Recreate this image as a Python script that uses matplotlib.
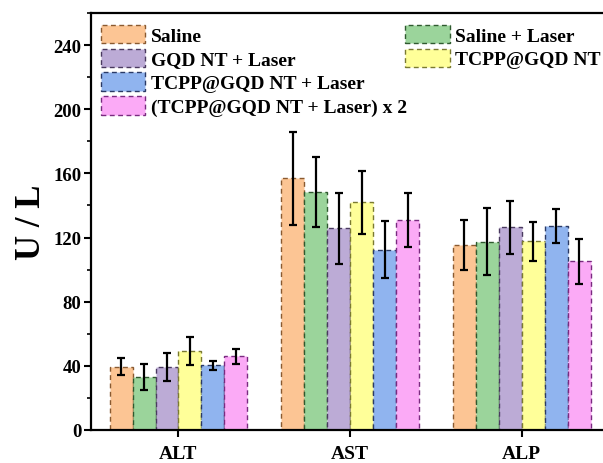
import numpy as np
import matplotlib
matplotlib.use("Agg")
import matplotlib.pyplot as plt
from matplotlib.patches import Patch
from matplotlib.ticker import MultipleLocator

plt.rcParams['font.family'] = ['Liberation Serif', 'DejaVu Serif']
plt.rcParams['font.weight'] = 'bold'

categories = ["ALT", "AST", "ALP"]
groups = ["Saline", "Saline + Laser", "GQD NT + Laser", "TCPP@GQD NT",
          "TCPP@GQD NT + Laser", "(TCPP@GQD NT + Laser) x 2"]

saline = [39.5, 157.0, 115.3]
saline_laser = [33.2, 148.5, 117.4]
gqd_laser = [39.1, 125.7, 126.4]
tcpp_gqd = [49.1, 142.0, 117.6]
tcpp_gqd_laser = [40.5, 112.4, 127.0]
tcpp_gqd_laser_x2 = [45.9, 130.9, 105.2]

saline_err = [5.5, 29.0, 15.7]
saline_laser_err = [8.2, 22.0, 21.0]
gqd_laser_err = [8.7, 22.0, 16.6]
tcpp_gqd_err = [8.7, 19.5, 12.3]
tcpp_gqd_laser_err = [2.8, 17.7, 10.5]
tcpp_gqd_laser_x2_err = [4.5, 17.0, 14.0]

values = [saline, saline_laser, gqd_laser, tcpp_gqd, tcpp_gqd_laser, tcpp_gqd_laser_x2]
errors = [saline_err, saline_laser_err, gqd_laser_err, tcpp_gqd_err,
          tcpp_gqd_laser_err, tcpp_gqd_laser_x2_err]

faces = ["#FCC594", "#9BD49B", "#BCABD6", "#FFFF99", "#90B4EF", "#FBAAF6"]
edges = ["#8A5A30", "#2F5A2F", "#4A3A60", "#7A7A30", "#2A3A66", "#7A2A80"]

fig = plt.figure(figsize=(6.03, 4.64), dpi=100)
ax = fig.add_axes([91 / 603, 33 / 464, 514.7 / 603, 417 / 464])

x = np.arange(len(categories))
width = 0.134
for i, (vals, errs) in enumerate(zip(values, errors)):
    pos = x + (i - 2.5) * width
    ax.bar(pos, vals, width, color=faces[i], edgecolor=edges[i],
           linewidth=1.0, linestyle=(0, (3.5, 2.5)), zorder=2)
    ax.errorbar(pos, vals, yerr=errs, fmt='none', ecolor='black',
                elinewidth=1.6, capsize=3.2, capthick=1.6, zorder=3)

ax.set_xlim(-0.51, 2.49)
ax.set_ylim(0, 260)
ax.set_xticks(x)
ax.set_xticklabels(categories, fontsize=14, fontweight='bold')
ax.yaxis.set_major_locator(MultipleLocator(40))
ax.yaxis.set_minor_locator(MultipleLocator(20))
ax.set_yticks([0, 40, 80, 120, 160, 200, 240])
for lab in ax.get_yticklabels():
    lab.set_fontsize(13.5)
    lab.set_fontweight('bold')
ax.tick_params(axis='y', which='major', direction='out', length=5, width=1.5, pad=2)
ax.tick_params(axis='y', which='minor', direction='out', length=3, width=1.2)
ax.tick_params(axis='x', which='major', direction='out', length=5, width=1.5, pad=6)

for s in ax.spines.values():
    s.set_linewidth(1.6)

ax.set_ylabel("U / L", fontsize=25, fontweight='bold', labelpad=4)

handles = [Patch(facecolor=faces[i], edgecolor=edges[i], linewidth=1.0,
                 linestyle=(0, (3.5, 2.5)), label=groups[i]) for i in range(6)]

legend_kw = dict(loc='upper left', frameon=False,
                 prop={'weight': 'bold', 'size': 14}, handlelength=2.3,
                 handleheight=1.1, labelspacing=0.2, handletextpad=0.3,
                 borderaxespad=0.45, borderpad=0.15)
leg1 = ax.legend(handles=[handles[0], handles[2], handles[4], handles[5]],
                 bbox_to_anchor=(-0.004, 1.0), **legend_kw)
ax.add_artist(leg1)
ax.legend(handles=[handles[1], handles[3]],
          bbox_to_anchor=(0.587, 1.0), **legend_kw)

fig.savefig("out.png", dpi=100)
